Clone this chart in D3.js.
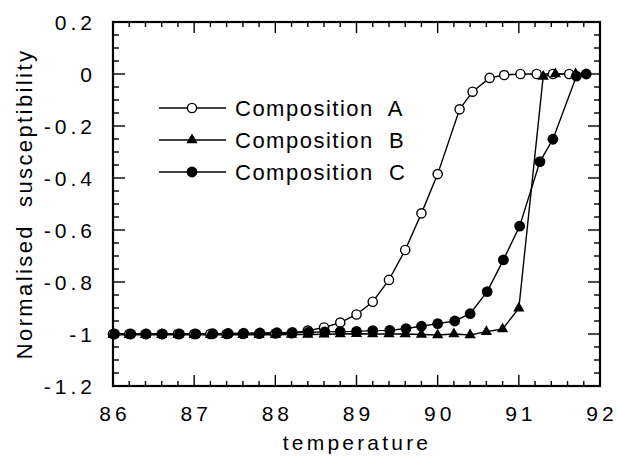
<!DOCTYPE html>
<html lang="en">
<head>
    <meta charset="UTF-8">
    <title>Normalised susceptibility vs temperature</title>
    <style>
        body {
            margin: 0;
            padding: 0;
            background-color: #ffffff;
        }

        #chart text {
            font-family: "Liberation Sans", Arial, Helvetica, sans-serif;
            fill: #000;
            white-space: pre;
        }
    </style>
</head>
<body>

<div id="chart"></div>

<script src="https://d3js.org/d3.v7.min.js"></script>
<script>
    // Composition A (open circles)
    const tempA = [86.0, 86.2, 86.4, 86.6, 86.8, 87.0, 87.2, 87.4, 87.6, 87.8, 88.0,
                   88.2, 88.4, 88.6, 88.8, 89.0, 89.2, 89.4, 89.6, 89.8, 90.0,
                   90.27, 90.43, 90.64, 90.82, 91.02, 91.22, 91.42, 91.62];
    const valuesA = [-1.0, -1.0, -1.0, -1.0, -1.0, -1.0, -1.0, -1.0, -1.0, -0.999, -0.998,
                     -0.997, -0.987, -0.975, -0.956, -0.925, -0.876, -0.792, -0.677, -0.536, -0.385,
                     -0.136, -0.068, -0.015, -0.004, 0.0, 0.0, 0.0, 0.0];

    // Composition B (filled triangles)
    const tempB = [86.0, 86.2, 86.4, 86.6, 86.8, 87.0, 87.2, 87.4, 87.6, 87.8, 88.0,
                   88.2, 88.4, 88.6, 88.8, 89.0, 89.2, 89.4, 89.6, 89.8, 90.0,
                   90.2, 90.4, 90.6, 90.8, 91.0, 91.3, 91.45, 91.7];
    const valuesB = [-1.003, -1.003, -1.003, -1.003, -1.003, -1.003, -1.003, -1.003, -1.003, -1.003, -1.003,
                     -1.002, -1.002, -1.001, -1.0, -0.999, -1.0, -1.0, -1.0, -1.002, -1.004,
                     -1.0, -1.004, -0.991, -0.981, -0.901, -0.01, 0.0, 0.0];

    // Composition C (filled circles)
    const tempC = [86.02, 86.22, 86.41, 86.61, 86.82, 87.02, 87.23, 87.42, 87.61, 87.81, 88.02,
                   88.21, 88.41, 88.61, 88.8, 89.0, 89.2, 89.41, 89.61, 89.8, 90.0,
                   90.21, 90.4, 90.61, 90.81, 91.01, 91.26, 91.42, 91.71, 91.83];
    const valuesC = [-1.0, -1.0, -1.0, -1.0, -1.0, -1.0, -0.999, -0.998, -0.997, -0.996, -0.995,
                     -0.994, -0.993, -0.992, -0.991, -0.99, -0.987, -0.986, -0.979, -0.97, -0.96,
                     -0.95, -0.922, -0.837, -0.715, -0.585, -0.337, -0.251, -0.008, 0.0];

    const xTicks = [86, 87, 88, 89, 90, 91, 92];
    const yTicks = [0.2, 0, -0.2, -0.4, -0.6, -0.8, -1, -1.2];
    const legendNames = ["Composition  A", "Composition  B", "Composition  C"];

    const width = 617, height = 458;
    const margin = { left: 113, right: 17, top: 22, bottom: 72 };

    const svg = d3.select("#chart").append("svg")
        .attr("width", width)
        .attr("height", height);

    const x = d3.scaleLinear().domain([86, 92]).range([margin.left, width - margin.right]);
    const y = d3.scaleLinear().domain([-1.2, 0.2]).range([height - margin.bottom, margin.top]);

    const x0 = x.range()[0], x1 = x.range()[1];
    const y0 = y.range()[0], y1 = y.range()[1];

    // ticks (inward, on all four sides)
    const ticks = svg.append("g").attr("stroke", "#000").attr("stroke-width", 1.4);
    const xMinor = d3.range(0, 31).map(i => 86 + i * 0.2);
    const yMinor = d3.range(0, 29).map(i => -1.2 + i * 0.05);
    const isMajorX = v => Math.abs(v - Math.round(v)) < 1e-6;
    const isMajorY = v => Math.abs(v * 5 - Math.round(v * 5)) < 1e-6;

    xMinor.forEach(v => {
        const len = isMajorX(v) ? 11 : 5;
        ticks.append("line").attr("x1", x(v)).attr("x2", x(v)).attr("y1", y0).attr("y2", y0 - len);
        ticks.append("line").attr("x1", x(v)).attr("x2", x(v)).attr("y1", y1).attr("y2", y1 + len);
    });
    yMinor.forEach(v => {
        const len = isMajorY(v) ? 12 : 6;
        ticks.append("line").attr("x1", x0).attr("x2", x0 + len).attr("y1", y(v)).attr("y2", y(v));
        ticks.append("line").attr("x1", x1).attr("x2", x1 - len).attr("y1", y(v)).attr("y2", y(v));
    });

    // frame
    svg.append("rect")
        .attr("x", x0).attr("y", y1)
        .attr("width", x1 - x0).attr("height", y0 - y1)
        .attr("fill", "none")
        .attr("stroke", "#000")
        .attr("stroke-width", 2.2);

    // tick labels
    svg.append("g").selectAll("text")
        .data(xTicks)
        .enter().append("text")
        .attr("x", d => x(d) + 2)
        .attr("y", 421)
        .attr("text-anchor", "middle")
        .style("font-size", "21px")
        .style("letter-spacing", "4px")
        .text(d => d);

    svg.append("g").selectAll("text")
        .data(yTicks)
        .enter().append("text")
        .attr("x", 96)
        .attr("y", d => y(d) + 8)
        .attr("text-anchor", "end")
        .style("font-size", "21px")
        .style("letter-spacing", "4px")
        .text(d => String(d));

    // axis titles
    svg.append("text")
        .attr("x", 357)
        .attr("y", 450)
        .attr("text-anchor", "middle")
        .style("font-size", "21px")
        .style("letter-spacing", "3.2px")
        .text("temperature");

    svg.append("text")
        .attr("transform", "translate(32," + 204 + ") rotate(-90)")
        .attr("text-anchor", "middle")
        .style("font-size", "22px")
        .style("letter-spacing", "2.4px")
        .text("Normalised  susceptibility");

    // series
    const line = d3.line().x(d => x(d[0])).y(d => y(d[1]));
    const triangle = d3.symbol().type(d3.symbolTriangle).size(55);

    const seriesA = tempA.map((t, i) => [t, valuesA[i]]);
    const seriesB = tempB.map((t, i) => [t, valuesB[i]]);
    const seriesC = tempC.map((t, i) => [t, valuesC[i]]);

    [seriesA, seriesB, seriesC].forEach(s => {
        svg.append("path")
            .datum(s)
            .attr("fill", "none")
            .attr("stroke", "#000")
            .attr("stroke-width", 1.4)
            .attr("d", line);
    });

    svg.append("g").selectAll("circle")
        .data(seriesA)
        .enter().append("circle")
        .attr("cx", d => x(d[0]))
        .attr("cy", d => y(d[1]))
        .attr("r", 4.6)
        .attr("fill", "#fff")
        .attr("stroke", "#000")
        .attr("stroke-width", 1.4);

    svg.append("g").selectAll("path")
        .data(seriesB)
        .enter().append("path")
        .attr("transform", d => "translate(" + x(d[0]) + "," + y(d[1]) + ")")
        .attr("d", triangle)
        .attr("fill", "#000");

    svg.append("g").selectAll("circle")
        .data(seriesC)
        .enter().append("circle")
        .attr("cx", d => x(d[0]))
        .attr("cy", d => y(d[1]))
        .attr("r", 5.4)
        .attr("fill", "#000");

    // legend
    const legend = svg.append("g");
    legendNames.forEach((name, i) => {
        const ly = 108 + i * 32;
        legend.append("line")
            .attr("x1", 159).attr("x2", 226)
            .attr("y1", ly).attr("y2", ly)
            .attr("stroke", "#000")
            .attr("stroke-width", 1.4);
        if (i === 0) {
            legend.append("circle").attr("cx", 192).attr("cy", ly).attr("r", 4.6)
                .attr("fill", "#fff").attr("stroke", "#000").attr("stroke-width", 1.4);
        } else if (i === 1) {
            legend.append("path").attr("transform", "translate(192," + ly + ")")
                .attr("d", triangle).attr("fill", "#000");
        } else {
            legend.append("circle").attr("cx", 192).attr("cy", ly).attr("r", 5.4).attr("fill", "#000");
        }
        legend.append("text")
            .attr("x", 235)
            .attr("y", ly + 8)
            .style("font-size", "22px")
            .style("letter-spacing", "1.5px")
            .text(name);
    });
</script>

</body>
</html>
